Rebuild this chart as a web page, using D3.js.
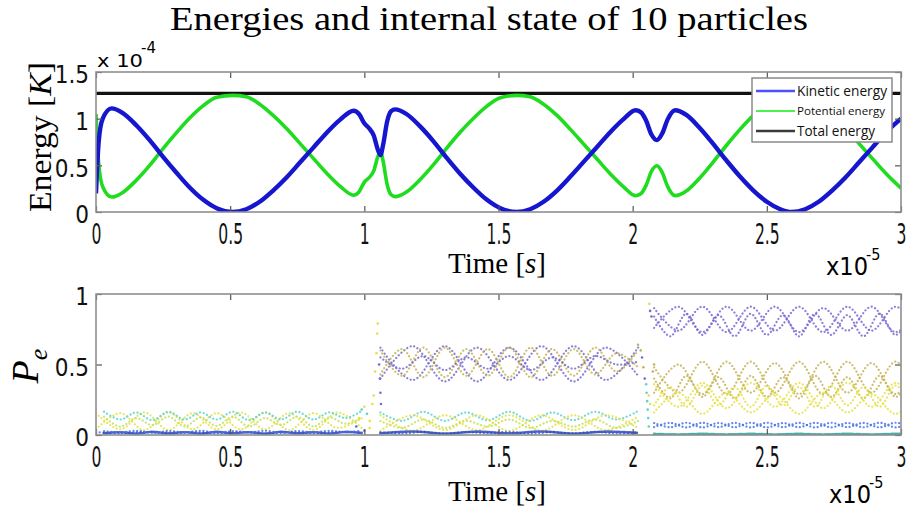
<!DOCTYPE html>
<html>
<head>
<meta charset="utf-8">
<script src="https://cdn.jsdelivr.net/npm/d3@7"></script>
<style>
  body { margin: 0; background: #fff; }
  svg { display: block; }
</style>
</head>
<body>
<svg width="909" height="514"></svg>
<script>
// ---- energies (time in 1e-5 s, energy in 1e-4 K) ----
const tEnergy = [0, 0.01, 0.025, 0.058, 0.1, 0.15, 0.2, 0.25, 0.3, 0.35, 0.4, 0.45, 0.51, 0.56, 0.61, 0.66, 0.71, 0.76, 0.81, 0.86, 0.91, 0.96,
  0.98, 1.0, 1.02, 1.035, 1.05, 1.06, 1.07, 1.085, 1.1, 1.115, 1.157, 1.207, 1.257, 1.307, 1.357, 1.407, 1.457, 1.507, 1.568,
  1.618, 1.668, 1.718, 1.768, 1.818, 1.868, 1.918, 1.968, 2.01, 2.03, 2.05, 2.07, 2.09, 2.11, 2.13, 2.158,
  2.2, 2.25, 2.3, 2.35, 2.4, 2.45, 2.5, 2.55, 2.593, 2.643, 2.693, 2.743, 2.793, 2.843, 2.893, 2.943, 3.0];
const kinetic = [0.2, 0.75, 1.0, 1.11, 1.06, 0.93, 0.77, 0.59, 0.42, 0.26, 0.13, 0.04, 0.0, 0.03, 0.11, 0.23, 0.37, 0.53, 0.69, 0.85, 0.99, 1.085,
  1.05, 0.95, 0.89, 0.82, 0.67, 0.61, 0.72, 0.97, 1.08, 1.10, 1.05, 0.92, 0.76, 0.58, 0.41, 0.26, 0.13, 0.04, 0.0,
  0.03, 0.11, 0.23, 0.38, 0.54, 0.70, 0.86, 1.0, 1.09, 1.07, 0.98, 0.83, 0.77, 0.84, 0.99, 1.09,
  1.04, 0.90, 0.73, 0.55, 0.38, 0.23, 0.11, 0.03, 0.0, 0.03, 0.11, 0.23, 0.37, 0.53, 0.69, 0.85, 1.0];
const potential = [1.05, 0.52, 0.27, 0.16, 0.21, 0.34, 0.50, 0.68, 0.85, 1.01, 1.14, 1.23, 1.25, 1.235, 1.155, 1.035, 0.895, 0.735, 0.575, 0.415, 0.275, 0.18,
  0.215, 0.32, 0.375, 0.44, 0.59, 0.65, 0.545, 0.295, 0.185, 0.165, 0.215, 0.345, 0.505, 0.685, 0.855, 1.005, 1.135, 1.225, 1.25,
  1.235, 1.155, 1.035, 0.885, 0.725, 0.565, 0.405, 0.265, 0.175, 0.195, 0.285, 0.435, 0.495, 0.425, 0.275, 0.175,
  0.225, 0.365, 0.535, 0.715, 0.885, 1.035, 1.155, 1.235, 1.25, 1.235, 1.155, 1.035, 0.895, 0.735, 0.575, 0.415, 0.255];
const totalEnergy = 1.27;

const timeTicks = [0, 0.5, 1, 1.5, 2, 2.5, 3];
const energyTicks = [0, 0.5, 1, 1.5];
const peTicks = [0, 0.5, 1];

// ---- internal state P_e, sampled at the turning points of each trace ----
const peTimeA  = [0, 0.09, 0.18, 0.27, 0.36, 0.45, 0.54, 0.63, 0.72, 0.81, 0.90, 0.99];
const peTimeA2 = [0.03, 0.09, 0.15, 0.21, 0.27, 0.33, 0.39, 0.45, 0.51, 0.57, 0.63, 0.69, 0.75, 0.81, 0.87, 0.93, 0.99];
const peTimeB  = [1.06, 1.18, 1.30, 1.42, 1.54, 1.66, 1.78, 1.90, 2.02];
const peTimeB2 = [1.06, 1.14, 1.22, 1.30, 1.38, 1.46, 1.54, 1.62, 1.70, 1.78, 1.86, 1.94, 2.02];
const peTimeC  = [2.08, 2.17, 2.26, 2.35, 2.44, 2.53, 2.62, 2.71, 2.80, 2.89, 2.98, 3.07];
const peTimeC2 = [2.08, 2.14, 2.20, 2.26, 2.32, 2.38, 2.44, 2.50, 2.56, 2.62, 2.68, 2.74, 2.80, 2.86, 2.92, 2.98, 3.04];

const peTraces = [
  // before 1e-5 s
  { kind: "yellow", t: "A",  v: [0.155, 0.04, 0.16, 0.035, 0.155, 0.04, 0.16, 0.04, 0.155, 0.035, 0.16, 0.05] },
  { kind: "yellow", t: "A",  v: [0.04, 0.155, 0.035, 0.16, 0.04, 0.155, 0.04, 0.16, 0.035, 0.155, 0.05, 0.12] },
  { kind: "lime",   t: "A2", v: [0.13, 0.06, 0.12, 0.07, 0.13, 0.06, 0.125, 0.065, 0.13, 0.06, 0.12, 0.07, 0.13, 0.06, 0.125, 0.08, 0.12] },
  { kind: "cyan",   t: "A2", v: [0.165, 0.11, 0.16, 0.105, 0.165, 0.11, 0.16, 0.11, 0.165, 0.105, 0.16, 0.11, 0.165, 0.11, 0.16, 0.12, 0.17] },
  { kind: "blue",   t: "A",  v: [0.02, 0.012, 0.022, 0.01, 0.02, 0.012, 0.022, 0.01, 0.02, 0.012, 0.022, 0.015] },
  { kind: "navy",   t: "A2", v: [0.012, 0.02, 0.01, 0.022, 0.012, 0.02, 0.01, 0.022, 0.012, 0.02, 0.01, 0.022, 0.012, 0.02, 0.01, 0.022, 0.015] },
  { kind: "blue",   t: "A2", v: [0.028, 0.018, 0.03, 0.016, 0.028, 0.018, 0.03, 0.016, 0.028, 0.018, 0.03, 0.016, 0.028, 0.018, 0.03, 0.02, 0.03] },
  // between 1e-5 and 2e-5 s
  { kind: "purple", t: "B",  v: [0.62, 0.39, 0.63, 0.38, 0.62, 0.39, 0.63, 0.39, 0.62] },
  { kind: "purple", t: "B",  v: [0.40, 0.63, 0.38, 0.62, 0.39, 0.63, 0.38, 0.62, 0.42] },
  { kind: "olive",  t: "B2", v: [0.60, 0.42, 0.62, 0.41, 0.61, 0.42, 0.62, 0.41, 0.61, 0.42, 0.62, 0.45, 0.60] },
  { kind: "olive",  t: "B2", v: [0.43, 0.61, 0.41, 0.62, 0.42, 0.61, 0.41, 0.62, 0.42, 0.61, 0.43, 0.58, 0.48] },
  { kind: "purple", t: "B2", v: [0.55, 0.47, 0.56, 0.46, 0.55, 0.47, 0.56, 0.46, 0.55, 0.47, 0.56, 0.50, 0.52] },
  { kind: "cyan",   t: "B2", v: [0.16, 0.10, 0.165, 0.10, 0.16, 0.105, 0.165, 0.10, 0.16, 0.105, 0.165, 0.11, 0.17] },
  { kind: "yellow", t: "B",  v: [0.14, 0.03, 0.14, 0.035, 0.14, 0.03, 0.14, 0.035, 0.13] },
  { kind: "yellow", t: "B",  v: [0.03, 0.14, 0.035, 0.14, 0.03, 0.14, 0.035, 0.14, 0.05] },
  { kind: "lime",   t: "B2", v: [0.10, 0.05, 0.11, 0.05, 0.10, 0.06, 0.11, 0.05, 0.10, 0.06, 0.11, 0.05, 0.10] },
  { kind: "blue",   t: "B2", v: [0.02, 0.01, 0.022, 0.01, 0.02, 0.012, 0.022, 0.01, 0.02, 0.012, 0.022, 0.01, 0.02] },
  { kind: "navy",   t: "B",  v: [0.012, 0.025, 0.01, 0.024, 0.012, 0.025, 0.01, 0.024, 0.015] },
  // after 2e-5 s
  { kind: "purple", t: "C",  v: [0.90, 0.74, 0.91, 0.73, 0.91, 0.74, 0.91, 0.73, 0.91, 0.74, 0.91, 0.74] },
  { kind: "purple", t: "C",  v: [0.76, 0.91, 0.73, 0.91, 0.74, 0.91, 0.73, 0.90, 0.74, 0.91, 0.73, 0.90] },
  { kind: "purple", t: "C2", v: [0.84, 0.70, 0.86, 0.71, 0.85, 0.70, 0.86, 0.71, 0.85, 0.70, 0.86, 0.71, 0.85, 0.70, 0.86, 0.71, 0.85] },
  { kind: "olive",  t: "C",  v: [0.48, 0.30, 0.52, 0.29, 0.52, 0.30, 0.52, 0.29, 0.52, 0.30, 0.52, 0.29] },
  { kind: "olive",  t: "C",  v: [0.30, 0.50, 0.29, 0.52, 0.30, 0.51, 0.29, 0.52, 0.30, 0.51, 0.29, 0.52] },
  { kind: "olive",  t: "C2", v: [0.40, 0.26, 0.42, 0.27, 0.41, 0.26, 0.42, 0.27, 0.41, 0.26, 0.42, 0.27, 0.41, 0.26, 0.42, 0.27, 0.41] },
  { kind: "yellow", t: "C",  v: [0.36, 0.20, 0.37, 0.19, 0.37, 0.20, 0.37, 0.19, 0.37, 0.20, 0.37, 0.20] },
  { kind: "yellow", t: "C2", v: [0.21, 0.34, 0.20, 0.35, 0.21, 0.34, 0.20, 0.35, 0.21, 0.34, 0.20, 0.35, 0.21, 0.34, 0.20, 0.35, 0.21] },
  { kind: "yellow", t: "C",  v: [0.16, 0.30, 0.15, 0.30, 0.16, 0.29, 0.15, 0.30, 0.16, 0.29, 0.15, 0.30] },
  { kind: "blue",   t: "C2", v: [0.085, 0.055, 0.087, 0.054, 0.085, 0.055, 0.087, 0.054, 0.085, 0.055, 0.087, 0.054, 0.085, 0.055, 0.087, 0.054, 0.085] },
  { kind: "blue",   t: "C2", v: [0.056, 0.086, 0.054, 0.087, 0.056, 0.086, 0.054, 0.087, 0.056, 0.086, 0.054, 0.087, 0.056, 0.086, 0.054, 0.087, 0.056] },
  { kind: "teal",   t: "C",  v: [0.008, 0.004, 0.008, 0.004, 0.008, 0.004, 0.008, 0.004, 0.008, 0.004, 0.008, 0.004] }
];

// scattered points during the two jumps
const jumpTime  = [0.97, 0.98, 0.99, 1.0, 1.01, 1.02, 1.0, 1.02, 1.03, 1.035, 1.04, 1.045, 1.048, 1.05, 1.055, 1.058, 1.06, 1.062,
  2.02, 2.03, 2.035, 2.04, 2.045, 2.05, 2.052, 2.054, 2.056, 2.058, 2.06, 2.062, 2.065, 2.07, 2.075, 2.08, 2.06, 2.065];
const jumpValue = [0.06, 0.12, 0.18, 0.2, 0.15, 0.1, 0.03, 0.05, 0.22, 0.28, 0.45, 0.58, 0.72, 0.79, 0.5, 0.4, 0.3, 0.22,
  0.64, 0.6, 0.55, 0.48, 0.4, 0.36, 0.3, 0.24, 0.18, 0.12, 0.06, 0.93, 0.88, 0.84, 0.45, 0.5, 0.28, 0.22];
const jumpKind  = ["blue", "yellow", "cyan", "yellow", "cyan", "yellow", "purple", "yellow", "yellow", "yellow", "yellow", "yellow", "yellow", "yellow", "purple", "purple", "purple", "purple",
  "olive", "olive", "purple", "olive", "purple", "cyan", "cyan", "cyan", "cyan", "cyan", "cyan", "yellow", "purple", "purple", "olive", "olive", "yellow", "yellow"];

const legendNames = ["Kinetic energy", "Potential energy", "Total energy"];

// ---- drawing ----
const svg = d3.select("svg");

const peColor = {
  yellow: "#e6e048", lime: "#c2e05a", cyan: "#5cd4cc", blue: "#4a72e4",
  navy: "#2c48c0", purple: "#776cd0", olive: "#c4b456", teal: "#22a39a"
};
// bottom-most traces are so dense in the original that the dots merge
const peDash = { navy: "0.1 1.6", teal: "0.1 1.6" };
const peTimes = { A: peTimeA, A2: peTimeA2, B: peTimeB, B2: peTimeB2, C: peTimeC, C2: peTimeC2 };

const x = d3.scaleLinear().domain([0, 3]).range([96, 901]);
const yE = d3.scaleLinear().domain([0, 1.5]).range([212, 72]);
const yP = d3.scaleLinear().domain([0, 1]).range([435, 294]);

const tickFont = "'DejaVu Sans Condensed', 'DejaVu Sans', sans-serif";
const serif = "'Liberation Serif', 'DejaVu Serif', serif";

// title
svg.append("text")
  .attr("x", 489).attr("y", 30)
  .attr("text-anchor", "middle")
  .attr("font-family", serif).attr("font-size", 34)
  .attr("textLength", 638).attr("lengthAdjust", "spacingAndGlyphs")
  .text("Energies and internal state of 10 particles");

function frameAxes(y, top, bottom, yTicks) {
  const g = svg.append("g");
  // x ticks bottom with labels (narrow, tall digits like the original)
  const gb = g.append("g").attr("transform", `translate(0,${bottom})`)
    .call(d3.axisBottom(x).tickValues(timeTicks).tickFormat(d3.format("~g"))
      .tickSizeInner(-6).tickSizeOuter(0).tickPadding(12));
  gb.selectAll("text").attr("font-size", 28).attr("transform", "scale(0.62,1)");
  // top ticks
  g.append("g").attr("transform", `translate(0,${top})`)
    .call(d3.axisTop(x).tickValues(timeTicks).tickFormat("").tickSizeInner(-6).tickSizeOuter(0));
  // left ticks with labels
  const gl = g.append("g").attr("transform", "translate(96,0)")
    .call(d3.axisLeft(y).tickValues(yTicks).tickFormat(d3.format("~g"))
      .tickSizeInner(-6).tickSizeOuter(0).tickPadding(7));
  gl.selectAll("text").attr("font-size", 24).attr("dy", "0.45em");
  // right ticks
  g.append("g").attr("transform", "translate(901,0)")
    .call(d3.axisRight(y).tickValues(yTicks).tickFormat("").tickSizeInner(-6).tickSizeOuter(0));

  g.selectAll(".domain").remove();
  g.selectAll(".tick line").attr("stroke", "#555").attr("stroke-width", 1.2);
  g.selectAll(".tick text").attr("font-family", tickFont).attr("fill", "#111");

  g.append("rect")
    .attr("x", 96).attr("y", top)
    .attr("width", 805).attr("height", bottom - top)
    .attr("fill", "none").attr("stroke", "#8f8f8f").attr("stroke-width", 1.6);
  return g;
}

// ---- top panel: energies ----
const topG = svg.append("g");
topG.append("clipPath").attr("id", "clipTop")
  .append("rect").attr("x", 96).attr("y", 72).attr("width", 805).attr("height", 140);

const eLine = (vals) => d3.line()
  .x((d, i) => x(tEnergy[i]))
  .y(d => yE(d))
  .curve(d3.curveMonotoneX)(vals);

const plotTop = topG.append("g").attr("clip-path", "url(#clipTop)");
plotTop.append("line")
  .attr("x1", x(0)).attr("x2", x(3))
  .attr("y1", yE(totalEnergy)).attr("y2", yE(totalEnergy))
  .attr("stroke", "#111").attr("stroke-width", 3.2);
plotTop.append("path").attr("d", eLine(potential))
  .attr("fill", "none").attr("stroke", "#1fdc1f").attr("stroke-width", 3.6);
plotTop.append("path").attr("d", eLine(kinetic))
  .attr("fill", "none").attr("stroke", "#1616cf").attr("stroke-width", 4.4);

frameAxes(yE, 72, 212, energyTicks);

// ---- bottom panel: P_e ----
const botG = svg.append("g");
botG.append("clipPath").attr("id", "clipBot")
  .append("rect").attr("x", 96).attr("y", 294).attr("width", 805).attr("height", 141);
const plotBot = botG.append("g").attr("clip-path", "url(#clipBot)");

plotBot.selectAll("path.trace")
  .data(peTraces)
  .enter()
  .append("path")
  .attr("class", "trace")
  .attr("d", d => {
    const ts = peTimes[d.t];
    return d3.line()
      .x((v, i) => x(ts[i]))
      .y(v => yP(v))
      .curve(d3.curveCatmullRom.alpha(0.5))(d.v);
  })
  .attr("fill", "none")
  .attr("stroke", d => peColor[d.kind])
  .attr("stroke-width", d => peDash[d.kind] ? 2.6 : 2.2)
  .attr("stroke-linecap", "round")
  .attr("stroke-dasharray", d => peDash[d.kind] || "0.1 3.6")
  .attr("opacity", 0.85);

plotBot.selectAll("circle.jump")
  .data(jumpTime)
  .enter()
  .append("circle")
  .attr("class", "jump")
  .attr("cx", d => x(d))
  .attr("cy", (d, i) => yP(jumpValue[i]))
  .attr("r", 1.3)
  .attr("fill", (d, i) => peColor[jumpKind[i]]);

frameAxes(yP, 294, 435, peTicks);

// ---- axis titles ----
function timeLabel(yBase) {
  const t = svg.append("text")
    .attr("x", 497).attr("y", yBase)
    .attr("text-anchor", "middle")
    .attr("font-family", serif).attr("font-size", 29);
  t.append("tspan").text("Time [");
  t.append("tspan").attr("font-style", "italic").text("s");
  t.append("tspan").text("]");
}
timeLabel(273);
timeLabel(501);

function expLabel(xPos, yBase, exp) {
  svg.append("text")
    .attr("x", xPos).attr("y", yBase)
    .attr("font-family", tickFont).attr("font-size", 25)
    .attr("textLength", 42).attr("lengthAdjust", "spacingAndGlyphs")
    .text("x10");
  svg.append("text")
    .attr("x", xPos + 40).attr("y", yBase - 15)
    .attr("font-family", tickFont).attr("font-size", 16)
    .text(exp);
}
expLabel(826, 275, "-5");
expLabel(829, 503, "-5");

// x 10^-4 above the energy panel
svg.append("text")
  .attr("x", 97).attr("y", 67)
  .attr("font-family", "'DejaVu Sans', sans-serif").attr("font-size", 18)
  .attr("textLength", 46).attr("lengthAdjust", "spacingAndGlyphs")
  .text("x 10");
svg.append("text")
  .attr("x", 141).attr("y", 53)
  .attr("font-family", "'DejaVu Sans', sans-serif").attr("font-size", 15)
  .text("-4");

const eLab = svg.append("text")
  .attr("transform", "translate(51,137) rotate(-90)")
  .attr("text-anchor", "middle")
  .attr("font-family", serif).attr("font-size", 31)
  .attr("textLength", 150).attr("lengthAdjust", "spacingAndGlyphs");
eLab.append("tspan").text("Energy [");
eLab.append("tspan").attr("font-style", "italic").text("K");
eLab.append("tspan").text("]");

const pLab = svg.append("text")
  .attr("transform", "translate(38,366) rotate(-90)")
  .attr("text-anchor", "middle")
  .attr("font-family", serif).attr("font-size", 38).attr("font-style", "italic");
pLab.append("tspan").text("P");
pLab.append("tspan").attr("font-size", 26).attr("dy", 9).text("e");

// ---- legend ----
const legendColor = ["#4f4fff", "#10ee10", "#3a3a3a"];
const legendWidth = [90, 88, 78];
const legendSize = [14, 11.5, 14];
const leg = svg.append("g").attr("transform", "translate(752,78)");
leg.append("rect")
  .attr("width", 140).attr("height", 64)
  .attr("fill", "#fff").attr("stroke", "#8a8a8a").attr("stroke-width", 1.5);
const items = leg.selectAll("g.item")
  .data(legendNames)
  .enter()
  .append("g")
  .attr("transform", (d, i) => `translate(0,${13 + i * 20})`);
items.append("line")
  .attr("x1", 4).attr("x2", 43)
  .attr("stroke", (d, i) => legendColor[i])
  .attr("stroke-width", (d, i) => i === 1 ? 1.6 : 2.4);
items.append("text")
  .attr("x", 45).attr("dy", "0.35em")
  .attr("font-family", "'Open Sans', 'Noto Sans', sans-serif")
  .attr("font-size", (d, i) => legendSize[i])
  .attr("textLength", (d, i) => legendWidth[i])
  .attr("lengthAdjust", "spacingAndGlyphs")
  .attr("fill", "#111")
  .text(d => d);
</script>
</body>
</html>
